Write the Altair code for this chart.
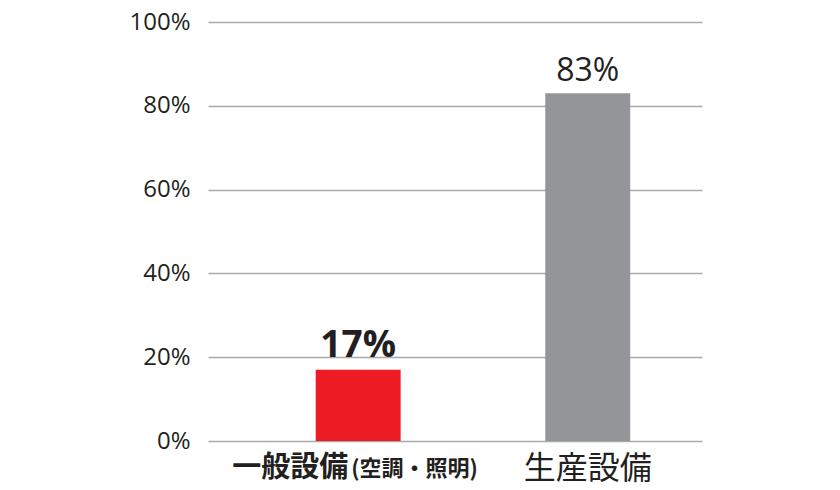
import altair as alt
import pandas as pd

categories = ["一般設備(空調・照明)", "生産設備"]
shares = [17, 83]
bar_colors = ["#ed1c24", "#939598"]
value_labels = ["17%", "83%"]
main_labels = ["一般設備", "生産設備"]
sub_labels = ["(空調・照明)", ""]
y_ticks = [0, 20, 40, 60, 80, 100]

df = pd.DataFrame({
    "cat": categories,
    "share": shares,
    "color": bar_colors,
    "vlabel": value_labels,
    "main": main_labels,
    "sub": sub_labels,
})

TEXT = "#231f20"
JP = "Noto Sans CJK JP"
NUM = "Open Sans"

xscale = alt.Scale(domain=categories, paddingInner=0.63, paddingOuter=0.391, align=0.6)
x = alt.X("cat:N", scale=xscale, axis=None, sort=categories)
yscale = alt.Scale(domain=[0, 100])

base = alt.Chart(df)

bars = base.mark_bar().encode(
    x=x,
    y=alt.Y(
        "share:Q",
        scale=yscale,
        axis=alt.Axis(
            values=y_ticks,
            labelExpr="datum.value + '%'",
            title=None,
            domain=False,
            ticks=False,
            grid=True,
            gridColor="#a7a9ac",
            gridWidth=1.5,
            labelFont=NUM,
            labelFontSize=24,
            labelColor=TEXT,
            labelPadding=18,
        ),
    ),
    color=alt.Color("color:N", scale=None),
)

val_bold = base.transform_filter(alt.datum.cat == categories[0]).mark_text(
    font=NUM, fontSize=37, fontWeight="bold", color=TEXT, dy=-13, baseline="alphabetic"
).encode(x=x, y=alt.Y("share:Q", scale=yscale), text="vlabel:N")

val_reg = base.transform_filter(alt.datum.cat == categories[1]).mark_text(
    font=NUM, fontSize=32, color=TEXT, dy=-12, baseline="alphabetic"
).encode(x=x, y=alt.Y("share:Q", scale=yscale), text="vlabel:N")

lab_main1 = base.transform_filter(alt.datum.cat == categories[0]).mark_text(
    font=JP, fontSize=29, fontWeight="bold", color=TEXT, align="right", dx=-10, baseline="middle"
).encode(x=x, y=alt.value(446), text="main:N")

lab_sub1 = base.transform_filter(alt.datum.cat == categories[0]).mark_text(
    font=JP, fontSize=22, fontWeight="bold", color=TEXT, align="left", dx=-7, baseline="middle"
).encode(x=x, y=alt.value(447), text="sub:N")

lab_main2 = base.transform_filter(alt.datum.cat == categories[1]).mark_text(
    font=JP, fontSize=32, color=TEXT, align="center", baseline="middle"
).encode(x=x, y=alt.value(447), text="main:N")

chart = alt.layer(bars, val_bold, val_reg, lab_main1, lab_sub1, lab_main2).properties(
    width=494,
    height=419,
    autosize=alt.AutoSizeParams(type="none"),
    padding={"left": 200, "top": 14, "right": 130, "bottom": 46},
).configure_view(stroke=None)

chart.save("out.html", embed_options={"renderer": "svg", "actions": False})
